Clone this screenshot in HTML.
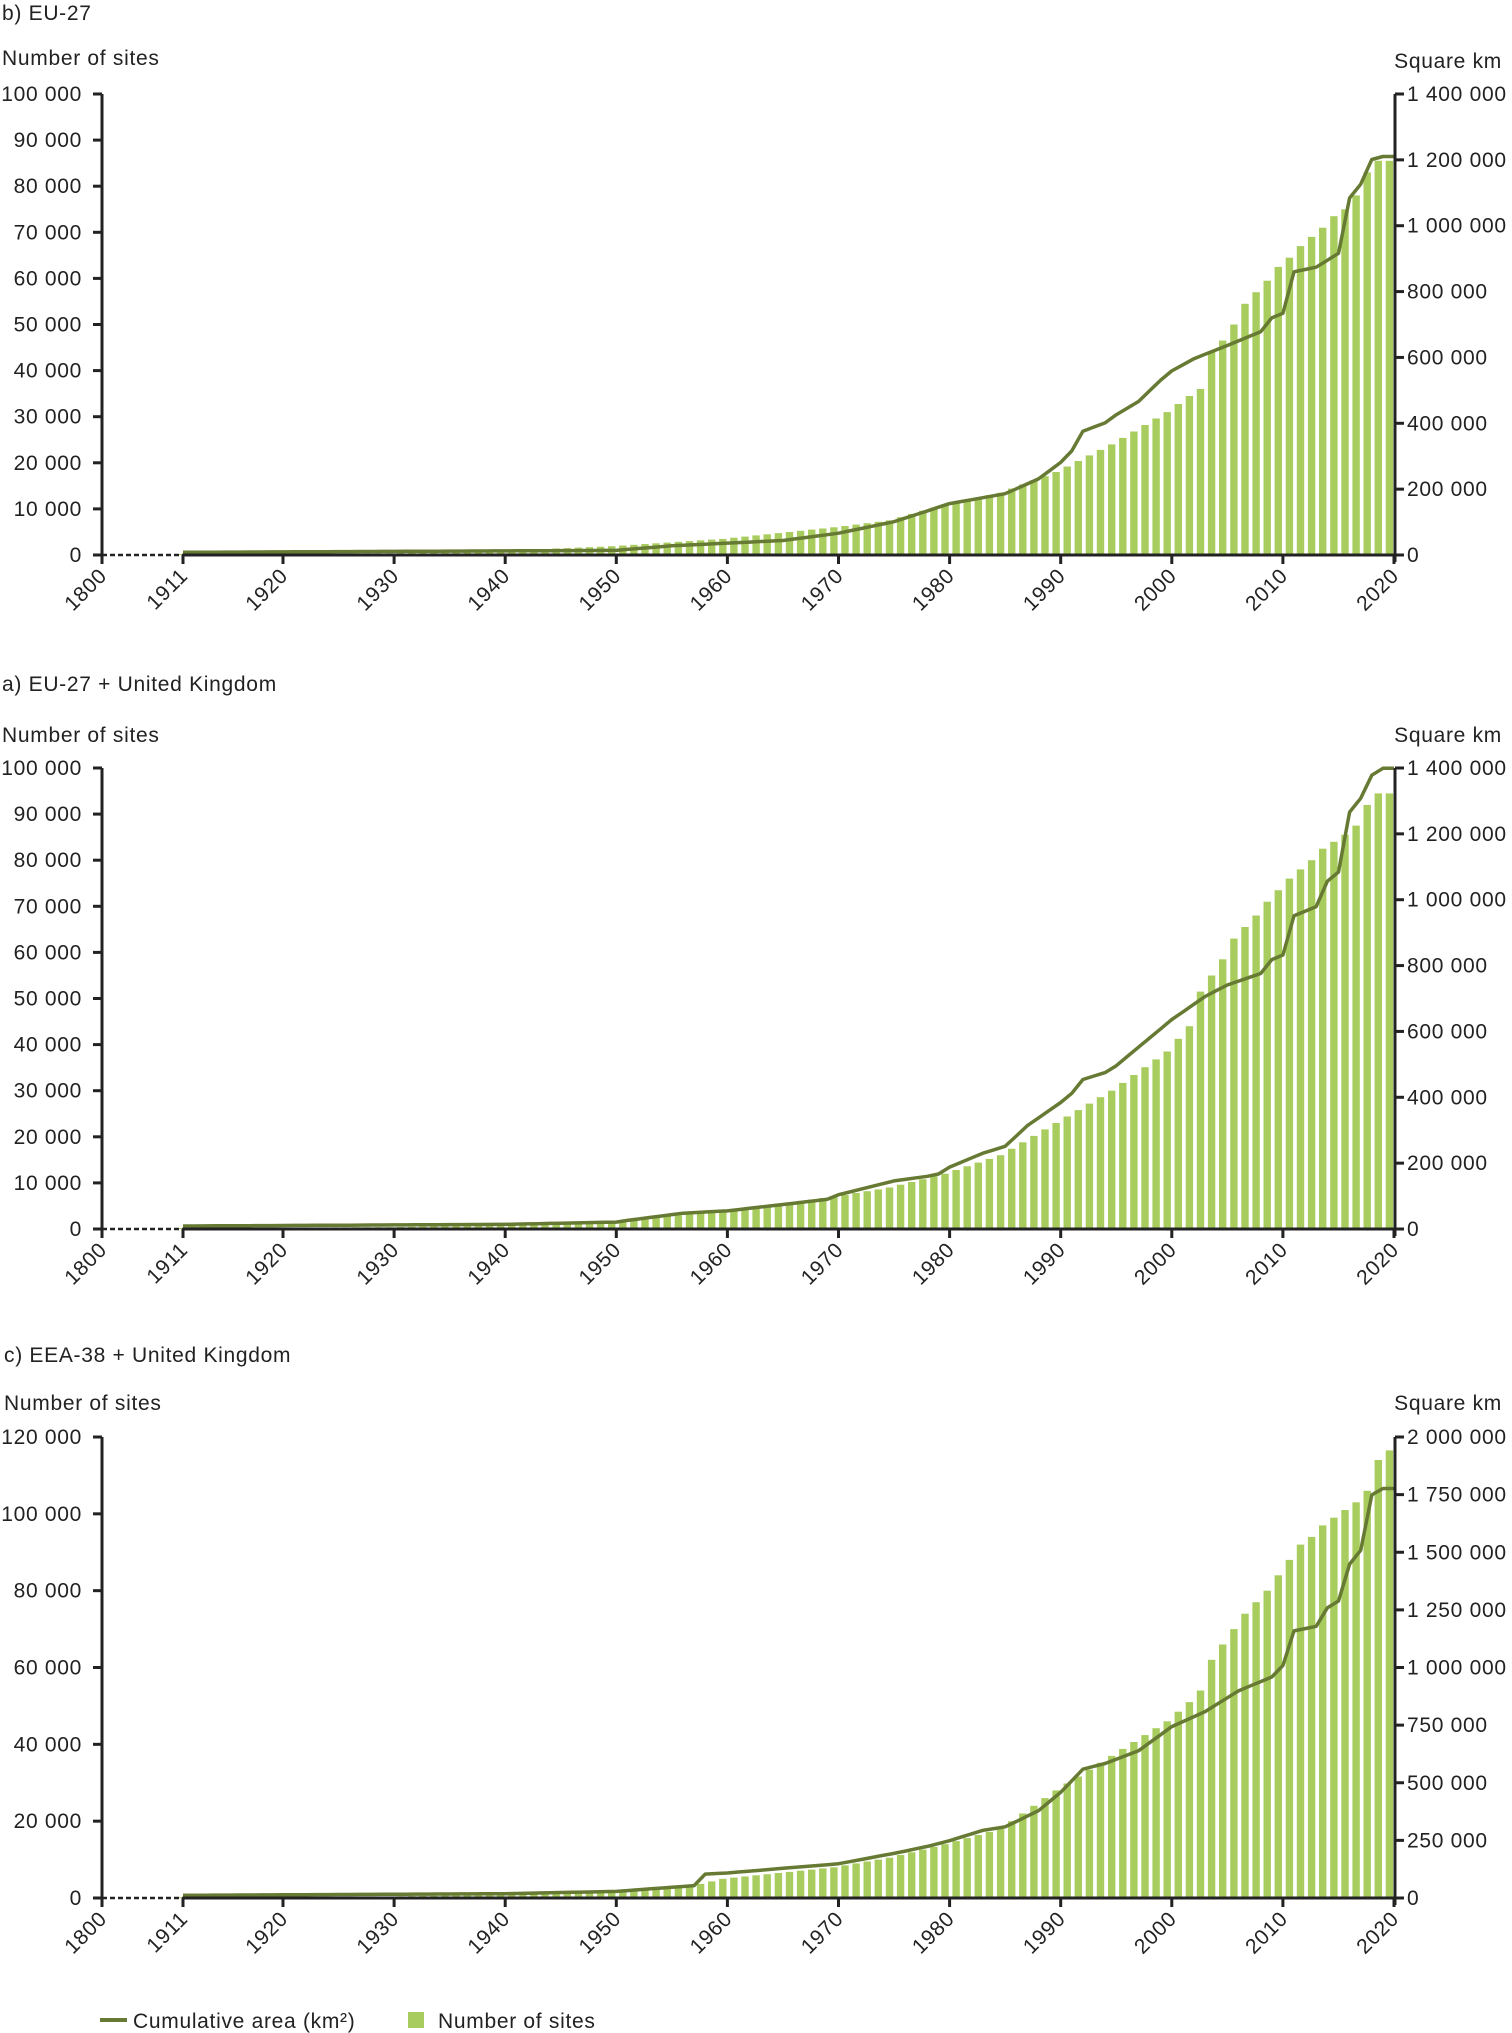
<!DOCTYPE html>
<html><head><meta charset="utf-8">
<style>
html,body{margin:0;padding:0;background:#fff;}
svg{display:block;font-family:"Liberation Sans",sans-serif;}
text{letter-spacing:0.7px;}
</style></head>
<body>
<svg id="s" width="1512" height="2033" viewBox="0 0 1512 2033" xmlns="http://www.w3.org/2000/svg">
<text x="2" y="20" font-size="21" fill="#222">b) EU-27</text>
<text x="2" y="65" font-size="21" fill="#222">Number of sites</text>
<text x="1502" y="68" font-size="21" fill="#222" text-anchor="end">Square km</text>
<text x="2" y="691" font-size="21" fill="#222">a) EU-27 + United Kingdom</text>
<text x="2" y="742" font-size="21" fill="#222">Number of sites</text>
<text x="1502" y="742" font-size="21" fill="#222" text-anchor="end">Square km</text>
<text x="4" y="1362" font-size="21" fill="#222">c) EEA-38 + United Kingdom</text>
<text x="4" y="1410" font-size="21" fill="#222">Number of sites</text>
<text x="1502" y="1410" font-size="21" fill="#222" text-anchor="end">Square km</text>
<line x1="100" y1="2020" x2="127" y2="2020" stroke="#677a33" stroke-width="4"/>
<text x="133" y="2028" font-size="21" fill="#222">Cumulative area (km²)</text>
<rect x="408" y="2012" width="16" height="16" fill="#a8cd5e"/>
<text x="438" y="2028" font-size="21" fill="#222">Number of sites</text>
<g id="g"></g>
</svg>
<script>
var NS="http://www.w3.org/2000/svg";
var G=document.getElementById("g");
function el(t,a,txt){var e=document.createElementNS(NS,t);for(var k in a)e.setAttribute(k,a[k]);if(txt!==undefined)e.textContent=txt;G.appendChild(e);return e;}
function interp(pts,y){for(var i=0;i<pts.length-1;i++){if(y>=pts[i][0]&&y<=pts[i+1][0]){var t=(y-pts[i][0])/(pts[i+1][0]-pts[i][0]);return pts[i][1]+t*(pts[i+1][1]-pts[i][1]);}}return pts[pts.length-1][1];}
function fmt(n){var s=String(n);return s.replace(/\B(?=(\d{3})+(?!\d))/g," ");}
var XL=102,XR=1395;
function X(y){return 283+(y-1920)*11.11;}
function chart(c){
 var top=c.top,zero=c.zero,h=zero-top;
 for(var y=1911;y<=2020;y++){var v=interp(c.bars,y);var bh=v/c.lmax*h;if(bh<0.5)continue;
  el("rect",{x:(X(y)-8.3).toFixed(1),y:(zero-bh).toFixed(1),width:7.4,height:bh.toFixed(1),fill:"#a8cd5e"});}
 var p=[];for(var y=1911;y<=2020;y++){var v=interp(c.line,y);p.push(X(y).toFixed(1)+","+(zero-2-v/c.rmax*h).toFixed(1));}
 el("polyline",{points:p.join(" "),fill:"none",stroke:"#677a33","stroke-width":3.5,"stroke-linejoin":"round"});
 el("line",{x1:XL,y1:top,x2:XL,y2:zero+7,stroke:"#222","stroke-width":3});
 el("line",{x1:XR,y1:top,x2:XR,y2:zero+7,stroke:"#222","stroke-width":3});
 el("line",{x1:XL,y1:zero,x2:183,y2:zero,stroke:"#222","stroke-width":2.5,"stroke-dasharray":"5,3"});
 el("line",{x1:183,y1:zero,x2:XR,y2:zero,stroke:"#222","stroke-width":3});
 for(var i=0;i<=c.ln;i++){var yy=zero-i*h/c.ln;el("line",{x1:XL-9,y1:yy,x2:XL,y2:yy,stroke:"#222","stroke-width":3});
  el("text",{x:82,y:yy+7,"font-size":21,fill:"#222","text-anchor":"end"},fmt(i*c.lmax/c.ln));}
 for(var i=0;i<=c.rn;i++){var yy=zero-i*h/c.rn;el("line",{x1:XR,y1:yy,x2:XR+9,y2:yy,stroke:"#222","stroke-width":3});
  el("text",{x:1407,y:yy+7,"font-size":21,fill:"#222"},fmt(i*c.rmax/c.rn));}
 var yrs=[[1800,XL],[1911,183]];for(var y=1920;y<=2020;y+=10)yrs.push([y,X(y)]);
 yrs.forEach(function(a){el("line",{x1:a[1],y1:zero,x2:a[1],y2:zero+9,stroke:"#222","stroke-width":3});
  var tx=a[1]+6,ty=zero+22;
  el("text",{x:tx,y:ty,"font-size":21,fill:"#222","text-anchor":"end",transform:"rotate(-45 "+tx+" "+ty+")"},String(a[0]));});
}
chart({top:94,zero:555,lmax:100000,ln:10,rmax:1400000,rn:7,
 bars:[[1911,200],[1930,400],[1940,900],[1950,1900],[1960,3500],[1970,6000],[1975,7500],[1980,11000],[1985,13500],[1990,18000],[1995,24000],[2000,31000],[2002,34500],[2003,36000],[2004,44000],[2005,46500],[2006,50000],[2007,54500],[2008,57000],[2009,59500],[2010,62500],[2011,64500],[2012,67000],[2013,69000],[2014,71000],[2015,73500],[2016,75000],[2017,78000],[2018,83000],[2019,85500],[2020,85500]],
 line:[[1911,2000],[1950,8000],[1955,22000],[1965,38000],[1970,60000],[1975,95000],[1980,150000],[1985,180000],[1988,225000],[1990,275000],[1991,310000],[1992,370000],[1994,395000],[1995,420000],[1997,460000],[1999,525000],[2000,553000],[2002,590000],[2005,630000],[2008,672000],[2009,714000],[2010,728000],[2011,854000],[2013,868000],[2015,910000],[2016,1078000],[2017,1120000],[2018,1195000],[2019,1204000],[2020,1204000]]});
chart({top:768,zero:1229,lmax:100000,ln:10,rmax:1400000,rn:7,
 bars:[[1911,200],[1930,400],[1940,800],[1950,1500],[1960,4000],[1970,7000],[1975,9000],[1980,12000],[1985,16000],[1990,23000],[1995,30000],[2000,38500],[2002,44000],[2003,51500],[2004,55000],[2005,58500],[2006,63000],[2007,65500],[2008,68000],[2009,71000],[2010,73500],[2011,76000],[2012,78000],[2013,80000],[2014,82500],[2015,84000],[2016,85500],[2017,87500],[2018,92000],[2019,94500],[2020,94500]],
 line:[[1911,3000],[1940,8000],[1950,15000],[1951,20000],[1956,42000],[1960,49000],[1969,84000],[1970,98000],[1975,140000],[1978,154000],[1979,161000],[1980,182000],[1983,224000],[1985,245000],[1987,308000],[1990,378000],[1991,406000],[1992,448000],[1994,469000],[1995,490000],[1997,546000],[1999,602000],[2000,630000],[2003,700000],[2005,735000],[2008,770000],[2009,812000],[2010,826000],[2011,945000],[2013,973000],[2014,1050000],[2015,1078000],[2016,1260000],[2017,1302000],[2018,1372000],[2019,1393000],[2020,1393000]]});
chart({top:1437,zero:1898,lmax:120000,ln:6,rmax:2000000,rn:8,
 bars:[[1911,200],[1930,400],[1940,900],[1950,1500],[1957,3000],[1960,5000],[1970,8000],[1975,10500],[1980,14000],[1985,18000],[1990,28000],[1995,37000],[2000,46000],[2002,51000],[2003,54000],[2004,62000],[2005,66000],[2006,70000],[2007,74000],[2008,77000],[2009,80000],[2010,84000],[2011,88000],[2012,92000],[2013,94000],[2014,97000],[2015,99000],[2016,101000],[2017,103000],[2018,106000],[2019,114000],[2020,116500]],
 line:[[1911,3000],[1940,10000],[1950,20000],[1957,45000],[1958,95000],[1960,100000],[1970,140000],[1975,185000],[1978,215000],[1980,240000],[1983,285000],[1985,300000],[1988,370000],[1990,450000],[1992,550000],[1994,575000],[1997,630000],[2000,735000],[2003,800000],[2006,890000],[2009,950000],[2010,1000000],[2011,1150000],[2013,1170000],[2014,1250000],[2015,1280000],[2016,1440000],[2017,1500000],[2018,1740000],[2019,1768000],[2020,1768000]]});
</script>
</body></html>
